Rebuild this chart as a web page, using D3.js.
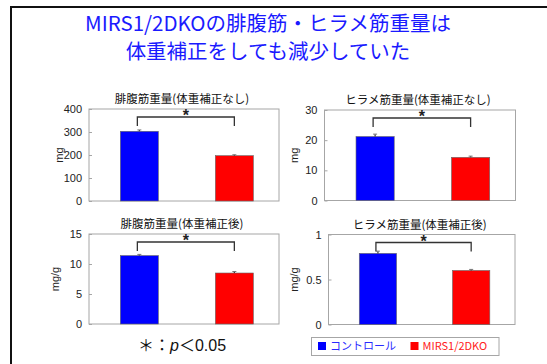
<!DOCTYPE html>
<html>
<head>
<meta charset="utf-8">
<script src="https://cdn.jsdelivr.net/npm/d3@7"></script>
<style>
    body { margin: 0; background: #fff; }
    svg { display: block; }
    text { font-family: "Noto Sans CJK JP", "Noto Sans", sans-serif; }
    .num { font-family: "Liberation Sans", "Noto Sans", sans-serif; }
</style>
</head>
<body>
<script>
// chart data
const groups = ['コントロール', 'MIRS1/2DKO'];
const panelTitles = ['腓腹筋重量(体重補正なし)', 'ヒラメ筋重量(体重補正なし)', '腓腹筋重量(体重補正後)', 'ヒラメ筋重量(体重補正後)'];
const yUnits = ['mg', 'mg', 'mg/g', 'mg/g'];
const yMax = [400, 30, 15, 1];
const yTickValues = [[0, 100, 200, 300, 400], [0, 10, 20, 30], [0, 5, 10, 15], [0, 0.5, 1]];
const controlMean = [303, 21.2, 11.4, 0.79];
const controlSem = [6, 0.8, 0.2, 0.025];
const koMean = [197, 14.3, 8.5, 0.60];
const koSem = [4, 0.4, 0.25, 0.012];

const groupColors = ['#0000ff', '#ff0000'];

const width = 547;
const height = 364;

const svg = d3.select('body')
    .append('svg')
    .attr('width', width)
    .attr('height', height);

// slide border
svg.append('rect')
    .attr('x', 11).attr('y', 7)
    .attr('width', 600).attr('height', 400)
    .attr('fill', 'none')
    .attr('stroke', '#111')
    .attr('stroke-width', 2);

// slide title
const titleLines = ['MIRS1/2DKOの腓腹筋・ヒラメ筋重量は', '体重補正をしても減少していた'];
svg.selectAll('text.slide-title')
    .data(titleLines)
    .enter()
    .append('text')
    .attr('class', 'slide-title')
    .attr('x', 268)
    .attr('y', (d, i) => 31 + i * 28)
    .attr('text-anchor', 'middle')
    .attr('font-size', 20.5)
    .attr('fill', '#1a1aff')
    .text(d => d);

// panel boxes: [left, top, right, bottom]
const boxes = [
    [89, 109, 279, 201],
    [324.5, 110, 515.5, 200.5],
    [89, 234, 279, 324],
    [328.5, 234.5, 515, 324.5]
];

panelTitles.forEach((title, i) => drawPanel(i));

function drawPanel(i)
{
    const [x0, y0, x1, y1] = boxes[i];
    const g = svg.append('g');

    const x = d3.scaleBand()
        .domain(groups)
        .range([x0, x1])
        .paddingInner(0.6)
        .paddingOuter(0.3)
        .align(0.55);

    const y = d3.scaleLinear()
        .domain([0, yMax[i]])
        .range([y1, y0]);

    const means = [controlMean[i], koMean[i]];
    const sems = [controlSem[i], koSem[i]];

    // frame
    g.append('rect')
        .attr('x', x0).attr('y', y0)
        .attr('width', x1 - x0).attr('height', y1 - y0)
        .attr('fill', 'none')
        .attr('stroke', '#a6a6a6')
        .attr('stroke-width', 1);

    // y axis
    const axis = g.append('g')
        .attr('transform', `translate(${x0},0)`)
        .call(d3.axisLeft(y)
            .tickValues(yTickValues[i])
            .tickFormat(d => d)
            .tickSizeInner(-3)
            .tickSizeOuter(0)
            .tickPadding(7));
    axis.select('.domain').remove();
    axis.selectAll('line').attr('stroke', '#a6a6a6');
    axis.selectAll('text')
        .attr('class', 'num')
        .attr('font-size', 11)
        .attr('fill', '#222');

    // bars
    g.selectAll('rect.bar')
        .data(groups)
        .enter()
        .append('rect')
        .attr('class', 'bar')
        .attr('x', d => x(d))
        .attr('width', x.bandwidth())
        .attr('y', (d, j) => y(means[j]))
        .attr('height', (d, j) => y(0) - y(means[j]))
        .attr('fill', (d, j) => groupColors[j])
        .attr('stroke', '#666')
        .attr('stroke-width', 0.6);

    // error bars
    groups.forEach((grp, j) =>
    {
        const cx = x(grp) + x.bandwidth() / 2;
        g.append('line')
            .attr('x1', cx).attr('x2', cx)
            .attr('y1', y(means[j])).attr('y2', y(means[j] + sems[j]))
            .attr('stroke', '#333')
            .attr('stroke-width', 1.2);
        g.append('line')
            .attr('x1', cx - 2).attr('x2', cx + 2)
            .attr('y1', y(means[j] + sems[j])).attr('y2', y(means[j] + sems[j]))
            .attr('stroke', '#777')
            .attr('stroke-width', 1);
    });

    // significance bracket
    const bx0 = x(groups[0]) + x.bandwidth() / 2 - 2;
    const bx1 = x(groups[1]) + x.bandwidth() / 2;
    const by = y0 + 8;
    g.append('path')
        .attr('d', `M${bx0},${by + 9}V${by}H${bx1}V${by + 9}`)
        .attr('fill', 'none')
        .attr('stroke', '#333')
        .attr('stroke-width', 1.3);
    g.append('text')
        .attr('x', (bx0 + bx1) / 2)
        .attr('y', by + 4)
        .attr('text-anchor', 'middle')
        .attr('font-size', 16)
        .attr('font-weight', 'bold')
        .attr('fill', '#222')
        .attr('class', 'num')
        .text('*');

    // panel title
    g.append('text')
        .attr('x', (x0 + x1) / 2 - 2)
        .attr('y', y0 - 6)
        .attr('text-anchor', 'middle')
        .attr('font-size', 11.5)
        .attr('fill', '#111')
        .text(panelTitles[i]);

    // y label
    const lx = x0 - (i < 2 ? 30 : 34);
    g.append('text')
        .attr('transform', `translate(${lx},${(y0 + y1) / 2}) rotate(-90)`)
        .attr('text-anchor', 'middle')
        .attr('dy', '0.35em')
        .attr('font-size', 11)
        .attr('class', 'num')
        .attr('fill', '#222')
        .text(yUnits[i]);
}

// footnote
const note = svg.append('text')
    .attr('x', 138)
    .attr('y', 351)
    .attr('font-size', 16)
    .attr('fill', '#111');
note.append('tspan').text('＊：');
note.append('tspan').attr('font-style', 'italic').attr('class', 'num').text('p');
note.append('tspan').text('＜');
note.append('tspan').attr('class', 'num').text('0.05');

// legend
const legend = svg.append('g');
legend.append('rect')
    .attr('x', 311.5).attr('y', 337.5)
    .attr('width', 187.5).attr('height', 18)
    .attr('fill', '#fff')
    .attr('stroke', '#a6a6a6');

const legendX = [318, 410.5];
const legendText = ['#2a2aff', '#ff2020'];
groups.forEach((grp, j) =>
{
    legend.append('rect')
        .attr('x', legendX[j]).attr('y', 342)
        .attr('width', 8).attr('height', 8)
        .attr('fill', groupColors[j]);
    legend.append('text')
        .attr('x', legendX[j] + 12)
        .attr('y', 350)
        .attr('font-size', 11)
        .attr('fill', legendText[j])
        .text(grp);
});
</script>
</body>
</html>
